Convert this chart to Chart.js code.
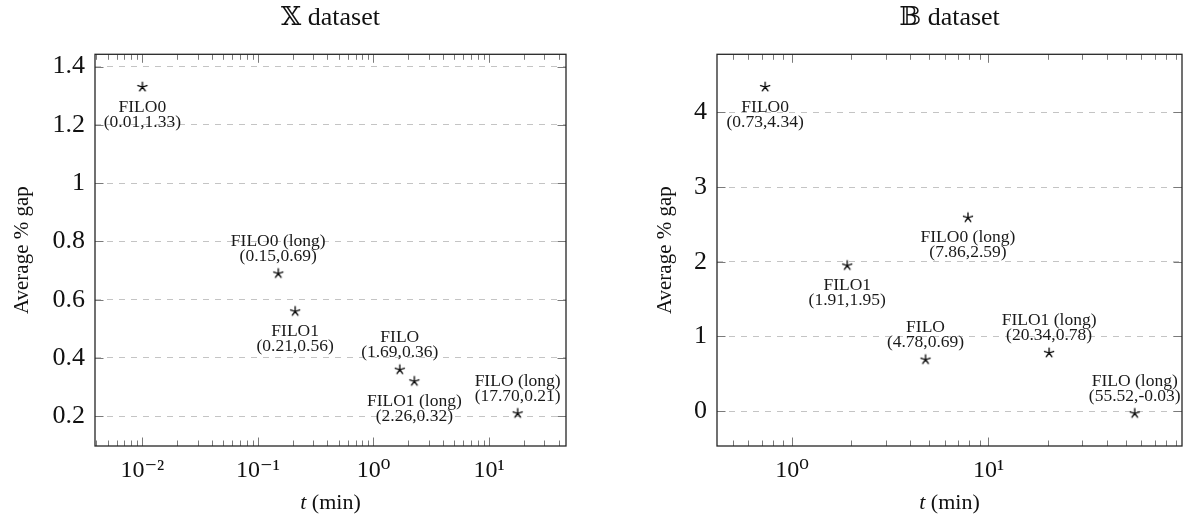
<!DOCTYPE html>
<html>
<head>
<meta charset="utf-8">
<title>FILO runs: gap vs time</title>
<script src="https://cdn.jsdelivr.net/npm/chart.js@4.4.1/dist/chart.umd.min.js"></script>
<style>
html, body { margin: 0; padding: 0; background: #fff; overflow: hidden; }
#wrapX { position: absolute; left: 0; top: 0; width: 594px; height: 515px; }
#wrapB { position: absolute; left: 594px; top: 0; width: 594px; height: 515px; }
</style>
</head>
<body>
<div id="wrapX"><canvas id="chartX" width="594" height="515"></canvas></div>
<div id="wrapB"><canvas id="chartB" width="594" height="515"></canvas></div>
<script>
'use strict';

const FONT = "'Liberation Serif', 'DejaVu Serif', 'DejaVu Sans', serif";

//===== X dataset =====
const xNames = ['FILO0', 'FILO0 (long)', 'FILO1', 'FILO', 'FILO1 (long)', 'FILO (long)'];
const xTimes = [0.01, 0.15, 0.21, 1.69, 2.26, 17.70];
const xGaps = [1.33, 0.69, 0.56, 0.36, 0.32, 0.21];
const xTickVals = [0.01, 0.1, 1, 10];
const xGapTicks = [0.2, 0.4, 0.6, 0.8, 1, 1.2, 1.4];

//===== B dataset =====
const bNames = ['FILO0', 'FILO0 (long)', 'FILO1', 'FILO', 'FILO1 (long)', 'FILO (long)'];
const bTimes = [0.73, 7.86, 1.91, 4.78, 20.34, 55.52];
const bGaps = [4.34, 2.59, 1.95, 0.69, 0.78, -0.03];
const bTickVals = [1, 10];
const bGapTicks = [0, 1, 2, 3, 4];

// which labels sit above their mark (the rest go below)
const xAbove = [false, true, false, true, false, true];
const bAbove = [false, false, false, true, true, true];

const SUP = {'-': '\u207B', '0': '\u2070', '1': '\u00B9', '2': '\u00B2', '3': '\u00B3'};

function powLabel(v) {
    const e = String(Math.round(Math.log10(v)));
    return '10' + e.split('').map(c => SUP[c]).join('');
}

// five-armed star like the pgfplots "star" mark
function makeStar(r) {
    const s = Math.ceil(r * 2 + 4);
    const c = document.createElement('canvas');
    c.width = s; c.height = s;
    const g = c.getContext('2d');
    g.strokeStyle = '#000';
    g.lineWidth = 1.3;
    g.lineCap = 'round';
    g.beginPath();
    for (let k = 0; k < 5; k++) {
        const a = -Math.PI / 2 + k * 2 * Math.PI / 5;
        g.moveTo(s / 2, s / 2);
        g.lineTo(s / 2 + r * Math.cos(a), s / 2 + r * Math.sin(a));
    }
    g.stroke();
    return c;
}
const STAR = makeStar(4.8);

// frame, inward ticks and the x axis label
const axisDecor = {
    id: 'axisDecor',
    afterDatasetsDraw(chart) {
        const {ctx, chartArea: a, scales: {x, y}} = chart;
        ctx.save();
        ctx.strokeStyle = '#7a7a7a';
        ctx.lineWidth = 1;
        ctx.beginPath();
        const lo = Math.floor(Math.log10(x.min));
        const hi = Math.ceil(Math.log10(x.max));
        for (let d = lo; d <= hi; d++) {
            for (let m = 1; m < 10; m++) {
                const v = m * Math.pow(10, d);
                if (v < x.min || v > x.max) continue;
                const px = Math.round(x.getPixelForValue(v)) + 0.5;
                const len = m === 1 ? 8.5 : 5.5;
                ctx.moveTo(px, a.bottom); ctx.lineTo(px, a.bottom - len);
                ctx.moveTo(px, a.top); ctx.lineTo(px, a.top + len);
            }
        }
        y.ticks.forEach(t => {
            const py = Math.round(y.getPixelForValue(t.value)) + 0.5;
            ctx.moveTo(a.left, py); ctx.lineTo(a.left + 8.5, py);
            ctx.moveTo(a.right, py); ctx.lineTo(a.right - 8.5, py);
        });
        ctx.stroke();

        ctx.strokeStyle = '#262626';
        ctx.lineWidth = 1.3;
        ctx.strokeRect(a.left, a.top, a.right - a.left, a.bottom - a.top);

        // "t (min)" with an italic t
        ctx.fillStyle = '#111';
        ctx.textBaseline = 'middle';
        ctx.textAlign = 'left';
        const it = `italic 22px ${FONT}`, up = `22px ${FONT}`;
        ctx.font = it;
        const w1 = ctx.measureText('t').width;
        ctx.font = up;
        const w2 = ctx.measureText(' (min)').width;
        const x0 = (a.left + a.right) / 2 - (w1 + w2) / 2;
        ctx.font = it;
        ctx.fillText('t', x0, 503);
        ctx.font = up;
        ctx.fillText(' (min)', x0 + w1, 503);
        ctx.restore();
    }
};

// two-line text next to each mark: name and (t,gap)
const pointLabels = {
    id: 'pointLabels',
    afterDatasetsDraw(chart, args, opts) {
        const {ctx} = chart;
        const meta = chart.getDatasetMeta(0);
        const data = chart.data.datasets[0].data;
        ctx.save();
        ctx.font = `17.5px ${FONT}`;
        ctx.fillStyle = '#1a1a1a';
        ctx.textAlign = 'center';
        ctx.textBaseline = 'middle';
        meta.data.forEach((pt, i) => {
            const d = data[i];
            const y0 = opts.above[i] ? pt.y - 32 : pt.y + 20;
            ctx.fillText(opts.names[i], pt.x, y0);
            ctx.fillText(`(${d.x.toFixed(2)},${d.y.toFixed(2)})`, pt.x, y0 + 15);
        });
        ctx.restore();
    }
};

function buildChart(id, cfg) {
    const points = cfg.times.map((t, i) => ({x: t, y: cfg.gaps[i]}));
    return new Chart(document.getElementById(id), {
        type: 'scatter',
        data: {
            datasets: [{
                data: points,
                pointStyle: STAR,
                pointRadius: 5,
                showLine: false
            }]
        },
        plugins: [axisDecor, pointLabels],
        options: {
            responsive: false,
            animation: false,
            layout: {padding: {left: 0, right: cfg.padRight, top: 0, bottom: 0}},
            plugins: {
                legend: {display: false},
                tooltip: {enabled: false},
                title: {
                    display: true,
                    text: cfg.title,
                    fullSize: false,
                    color: '#111',
                    font: {family: FONT, size: 26, weight: 'normal', lineHeight: 1.2},
                    padding: {top: 2.4, bottom: 20.7}
                },
                pointLabels: {names: cfg.names, above: cfg.above}
            },
            scales: {
                x: {
                    type: 'logarithmic',
                    min: cfg.xMin,
                    max: cfg.xMax,
                    grid: {display: false},
                    border: {display: false},
                    afterBuildTicks: s => { s.ticks = cfg.xTicks.map(v => ({value: v})); },
                    afterFit: s => {
                        s.height = 69;
                        s.paddingLeft = 0;
                        s.paddingRight = 0;
                    },
                    ticks: {
                        autoSkip: false,
                        maxRotation: 0,
                        padding: 2,
                        color: '#111',
                        font: {family: FONT, size: 24},
                        callback: v => powLabel(v)
                    }
                },
                y: {
                    type: 'linear',
                    min: cfg.yMin,
                    max: cfg.yMax,
                    grid: {color: '#c4c4c4', lineWidth: 1, drawTicks: false},
                    border: {display: false, dash: [6, 6]},
                    afterBuildTicks: s => { s.ticks = cfg.yTicks.map(v => ({value: v})); },
                    afterFit: s => { s.width = cfg.yWidth; },
                    title: {
                        display: true,
                        text: 'Average % gap',
                        color: '#111',
                        font: {family: FONT, size: 21, lineHeight: 1.2},
                        padding: {top: cfg.yTitlePad, bottom: 0}
                    },
                    ticks: {
                        padding: 10,
                        color: '#111',
                        font: {family: FONT, size: 26},
                        callback: v => String(v)
                    }
                }
            }
        }
    });
}

buildChart('chartX', {
    title: '\uD835\uDD4F dataset',
    names: xNames, times: xTimes, gaps: xGaps, above: xAbove,
    xTicks: xTickVals, yTicks: xGapTicks,
    xMin: 0.00389, xMax: 46.4, yMin: 0.098, yMax: 1.442,
    yWidth: 95, yTitlePad: 9.4, padRight: 28
});

// the B plot is cut by the right edge of the page, so its frame ends there
buildChart('chartB', {
    title: '\uD835\uDD39 dataset',
    names: bNames, times: bTimes, gaps: bGaps, above: bAbove,
    xTicks: bTickVals, yTicks: bGapTicks,
    xMin: 0.415, xMax: 96.6, yMin: -0.467, yMax: 4.777,
    yWidth: 123, yTitlePad: 58.4, padRight: 0
});
</script>
</body>
</html>
